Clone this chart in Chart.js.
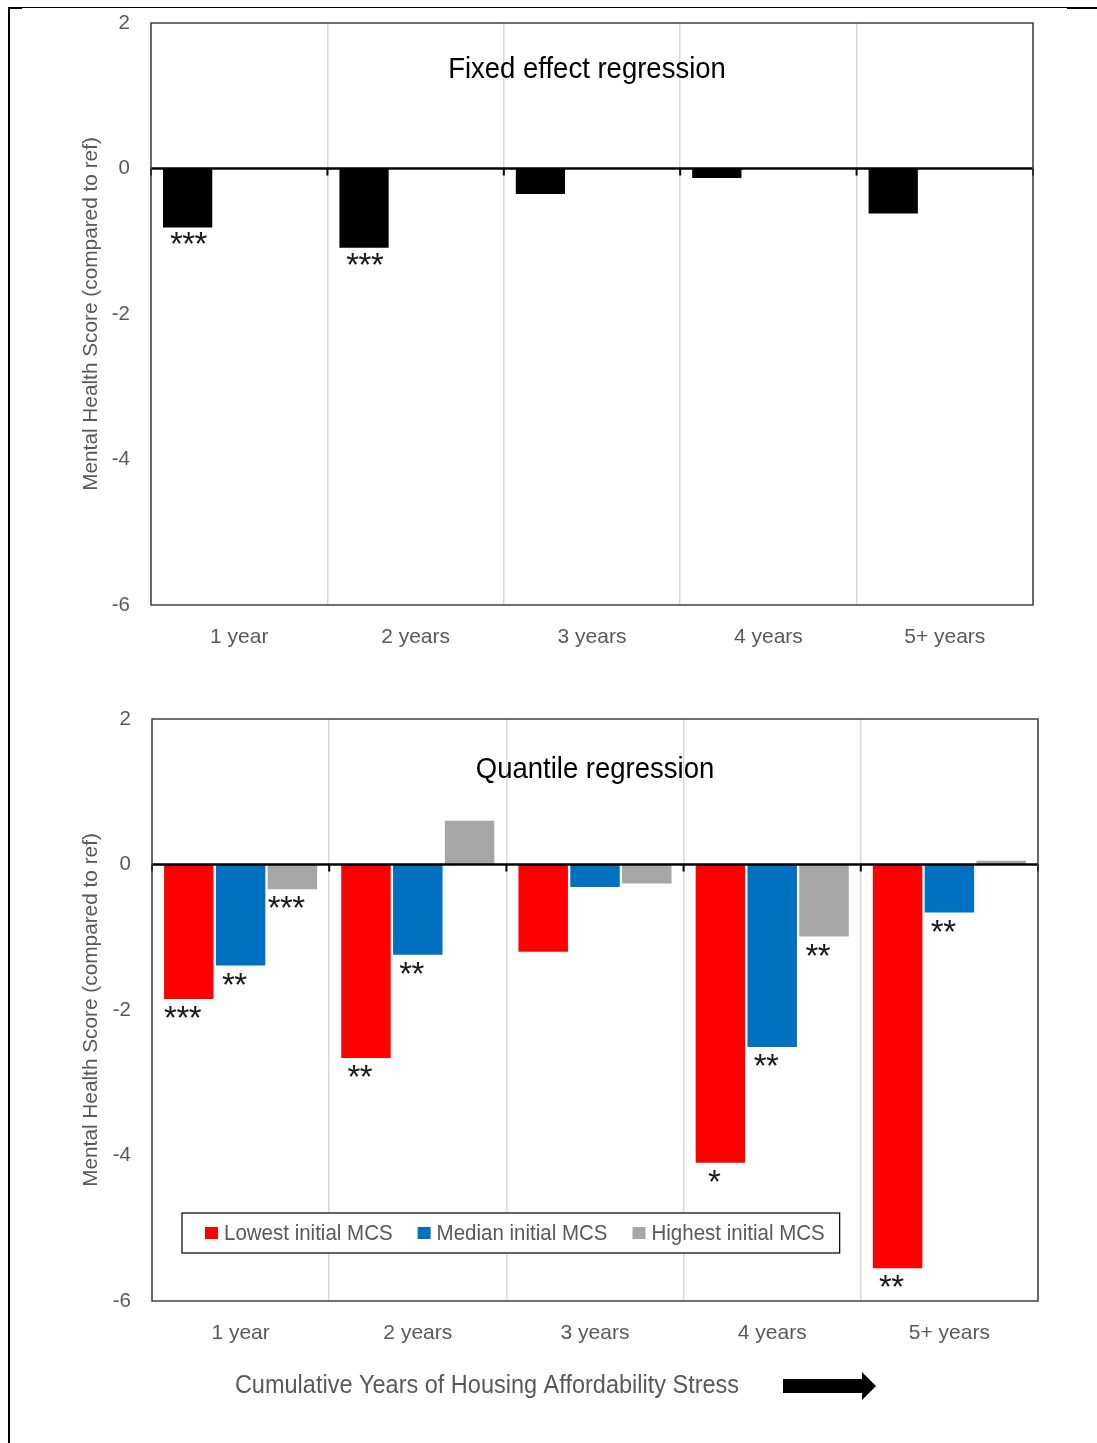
<!DOCTYPE html>
<html>
<head>
<meta charset="utf-8">
<script src="https://cdn.jsdelivr.net/npm/chart.js@4.4.1/dist/chart.umd.min.js"></script>
<style>
  html, body { margin: 0; padding: 0; background: #fff; }
  body { width: 1097px; height: 1443px; position: relative; overflow: hidden; }
  .frame { position: absolute; left: 8px; top: 7px; width: 1089px; height: 1436px; border-left: 2px solid #000; border-top: 1px solid #000; }
  .frame-cap { position: absolute; top: 7px; height: 2px; background: #000; }
  .box { position: absolute; left: 0; width: 1097px; }
  #topBox { top: 0; height: 680px; }
  #bottomBox { top: 680px; height: 763px; }
</style>
</head>
<body>
<div class="frame"></div>
<div class="frame-cap" style="left:8px;width:14px"></div>
<div class="frame-cap" style="left:1067px;width:30px"></div>
<div class="box" id="topBox"><canvas id="fixedChart" width="1097" height="680"></canvas></div>
<div class="box" id="bottomBox"><canvas id="quantileChart" width="1097" height="763"></canvas></div>
<script>
// Data
const categories = ["1 year", "2 years", "3 years", "4 years", "5+ years"];
const yTicks = [-6, -4, -2, 0, 2];

// Fixed effect regression
const fixedEffect = [-0.81, -1.09, -0.35, -0.13, -0.62];
const fixedStars = ["***", "***", "", "", ""];

// Quantile regression
const lowestMCS = [-1.85, -2.66, -1.20, -4.10, -5.55];
const lowestStars = ["***", "**", "", "*", "**"];
const medianMCS = [-1.39, -1.24, -0.31, -2.51, -0.66];
const medianStars = ["**", "**", "", "**", "**"];
const highestMCS = [-0.34, 0.60, -0.26, -0.99, 0.05];
const highestStars = ["***", "", "", "**", ""];

const GRAY = "#595959";
const FONT = "'Liberation Sans', Arial, sans-serif";
const Y_TITLE = "Mental Health Score (compared to ref)";
const X_TITLE = "Cumulative Years of Housing Affordability Stress";

// draw text a bit taller than wide, like the source figure
function tallText(ctx, text, x, y, stretch) {
  ctx.save();
  ctx.translate(x, y);
  ctx.scale(1, stretch);
  ctx.fillText(text, 0, 0);
  ctx.restore();
}

// Excel-like frame: zero line with ticks, plot border, inner title, star labels
const excelFrame = {
  id: "excelFrame",
  afterDatasetsDraw(chart, args, opts) {
    const { ctx, chartArea: a, scales: { y } } = chart;
    const zero = y.getPixelForValue(0);
    const w = (a.right - a.left) / categories.length;
    ctx.save();

    // star labels under the bars, one glyph at a time
    ctx.fillStyle = "#1a1a1a";
    ctx.font = `33px ${FONT}`;
    ctx.textAlign = "center";
    ctx.textBaseline = "alphabetic";
    const step = 12.3;
    chart.data.datasets.forEach((ds, di) => {
      if (!ds.stars) return;
      chart.getDatasetMeta(di).data.forEach((bar, i) => {
        const s = ds.stars[i];
        if (!s) return;
        const x0 = bar.x + opts.starDx - (s.length - 1) * step / 2;
        for (let k = 0; k < s.length; k++) {
          ctx.fillText("*", x0 + k * step, bar.y + opts.starDy);
        }
      });
    });

    // zero line and category ticks
    ctx.strokeStyle = "#000";
    ctx.lineWidth = 2.5;
    ctx.beginPath();
    ctx.moveTo(a.left, zero);
    ctx.lineTo(a.right, zero);
    ctx.stroke();
    ctx.lineWidth = 2;
    for (let i = 0; i <= categories.length; i++) {
      const px = a.left + w * i;
      ctx.beginPath();
      ctx.moveTo(px, zero);
      ctx.lineTo(px, zero + 7);
      ctx.stroke();
    }

    // plot border
    ctx.strokeStyle = "#404040";
    ctx.lineWidth = 1.5;
    ctx.strokeRect(a.left, a.top, a.right - a.left, a.bottom - a.top);

    // title inside plot
    ctx.fillStyle = "#000";
    ctx.font = `27.5px ${FONT}`;
    ctx.textBaseline = "middle";
    tallText(ctx, opts.text, (a.left + a.right) / 2 + opts.titleDx, a.top + opts.titleDy, 1.1);
    ctx.restore();
  }
};

// Boxed legend inside the plot + axis title with arrow (bottom chart only)
const boxLegend = {
  id: "boxLegend",
  afterDraw(chart, args, opts) {
    if (!opts.show) return;
    const { ctx, chartArea: a } = chart;
    ctx.save();
    ctx.font = `20.5px ${FONT}`;
    const items = chart.data.datasets.map(ds => ({ label: ds.label, color: ds.backgroundColor }));
    const widths = items.map(it => ctx.measureText(it.label).width);
    const sq = 13, gap = 6, itemGap = 25, padL = 23, padR = 15;
    const total = padL + padR + widths.reduce((s, v) => s + v, 0) + items.length * (sq + gap) + (items.length - 1) * itemGap;
    const bx = a.left + 30, by = a.bottom - 88, bh = 40;
    ctx.fillStyle = "#fff";
    ctx.fillRect(bx, by, total, bh);
    ctx.strokeStyle = "#000";
    ctx.lineWidth = 1.2;
    ctx.strokeRect(bx, by, total, bh);
    let cx = bx + padL;
    const cy = by + bh / 2;
    ctx.textBaseline = "middle";
    ctx.textAlign = "left";
    items.forEach((it, i) => {
      ctx.fillStyle = it.color;
      ctx.fillRect(cx, cy - 6, sq, 12);
      cx += sq + gap;
      ctx.fillStyle = GRAY;
      tallText(ctx, it.label, cx, cy + 1, 1.1);
      cx += widths[i] + itemGap;
    });

    // x axis title
    ctx.font = `23.5px ${FONT}`;
    ctx.textAlign = "center";
    ctx.fillStyle = GRAY;
    const ty = a.bottom + 85;
    tallText(ctx, X_TITLE, a.left + 335, ty, 1.1);

    // arrow
    const ax = a.left + 631, hx = a.left + 710, tip = a.left + 724;
    ctx.fillStyle = "#000";
    ctx.beginPath();
    ctx.moveTo(ax, ty - 7);
    ctx.lineTo(hx, ty - 7);
    ctx.lineTo(hx, ty - 14);
    ctx.lineTo(tip, ty);
    ctx.lineTo(hx, ty + 14);
    ctx.lineTo(hx, ty + 7);
    ctx.lineTo(ax, ty + 7);
    ctx.closePath();
    ctx.fill();
    ctx.restore();
  }
};

function makeOptions(leftWidth, xHeight, padding, frameOpts, legendOpts) {
  return {
    responsive: false,
    animation: false,
    layout: { padding: padding },
    scales: {
      x: {
        grid: { display: true, color: "#d9d9d9", lineWidth: 1.5, drawTicks: false, offset: true },
        border: { display: false },
        ticks: { color: GRAY, font: { family: FONT, size: 21 }, padding: 20 },
        afterFit: (s) => { s.height = xHeight; }
      },
      y: {
        min: -6,
        max: 2,
        afterBuildTicks: (s) => { s.ticks = yTicks.map(v => ({ value: v })); },
        grid: { display: false, drawTicks: false },
        border: { display: false },
        ticks: { color: GRAY, font: { family: FONT, size: 20.5 }, padding: 21 },
        title: {
          display: true,
          text: Y_TITLE,
          color: GRAY,
          font: { family: FONT, size: 20.8 },
          padding: { top: 79, bottom: 0 }
        },
        afterFit: (s) => {
          s.width = leftWidth;
          s.paddingTop = 0;
          s.paddingBottom = 0;
        }
      }
    },
    plugins: {
      legend: { display: false },
      tooltip: { enabled: false },
      excelFrame: frameOpts,
      boxLegend: legendOpts
    }
  };
}

const barStyle = { categoryPercentage: 0.877, barPercentage: 0.955, borderWidth: 0 };

new Chart(document.getElementById("fixedChart"), {
  type: "bar",
  data: {
    labels: categories,
    datasets: [
      { label: "Fixed effect", data: fixedEffect, stars: fixedStars, backgroundColor: "#000", ...barStyle },
      { label: "", data: categories.map(() => null), backgroundColor: "#000", ...barStyle },
      { label: "", data: categories.map(() => null), backgroundColor: "#000", ...barStyle }
    ]
  },
  options: makeOptions(151, 75, { top: 23, left: 0, right: 64, bottom: 0 },
    { text: "Fixed effect regression", titleDx: -5, titleDy: 47, starDx: 1, starDy: 28 },
    { show: false }),
  plugins: [excelFrame, boxLegend]
});

new Chart(document.getElementById("quantileChart"), {
  type: "bar",
  data: {
    labels: categories,
    datasets: [
      { label: "Lowest initial MCS", data: lowestMCS, stars: lowestStars, backgroundColor: "#FF0000", ...barStyle },
      { label: "Median initial MCS", data: medianMCS, stars: medianStars, backgroundColor: "#0070C0", ...barStyle },
      { label: "Highest initial MCS", data: highestMCS, stars: highestStars, backgroundColor: "#A6A6A6", ...barStyle }
    ]
  },
  options: makeOptions(152, 142, { top: 39, left: 0, right: 59, bottom: 0 },
    { text: "Quantile regression", titleDx: 0, titleDy: 51, starDx: -6, starDy: 30 },
    { show: true }),
  plugins: [excelFrame, boxLegend]
});
</script>
</body>
</html>
